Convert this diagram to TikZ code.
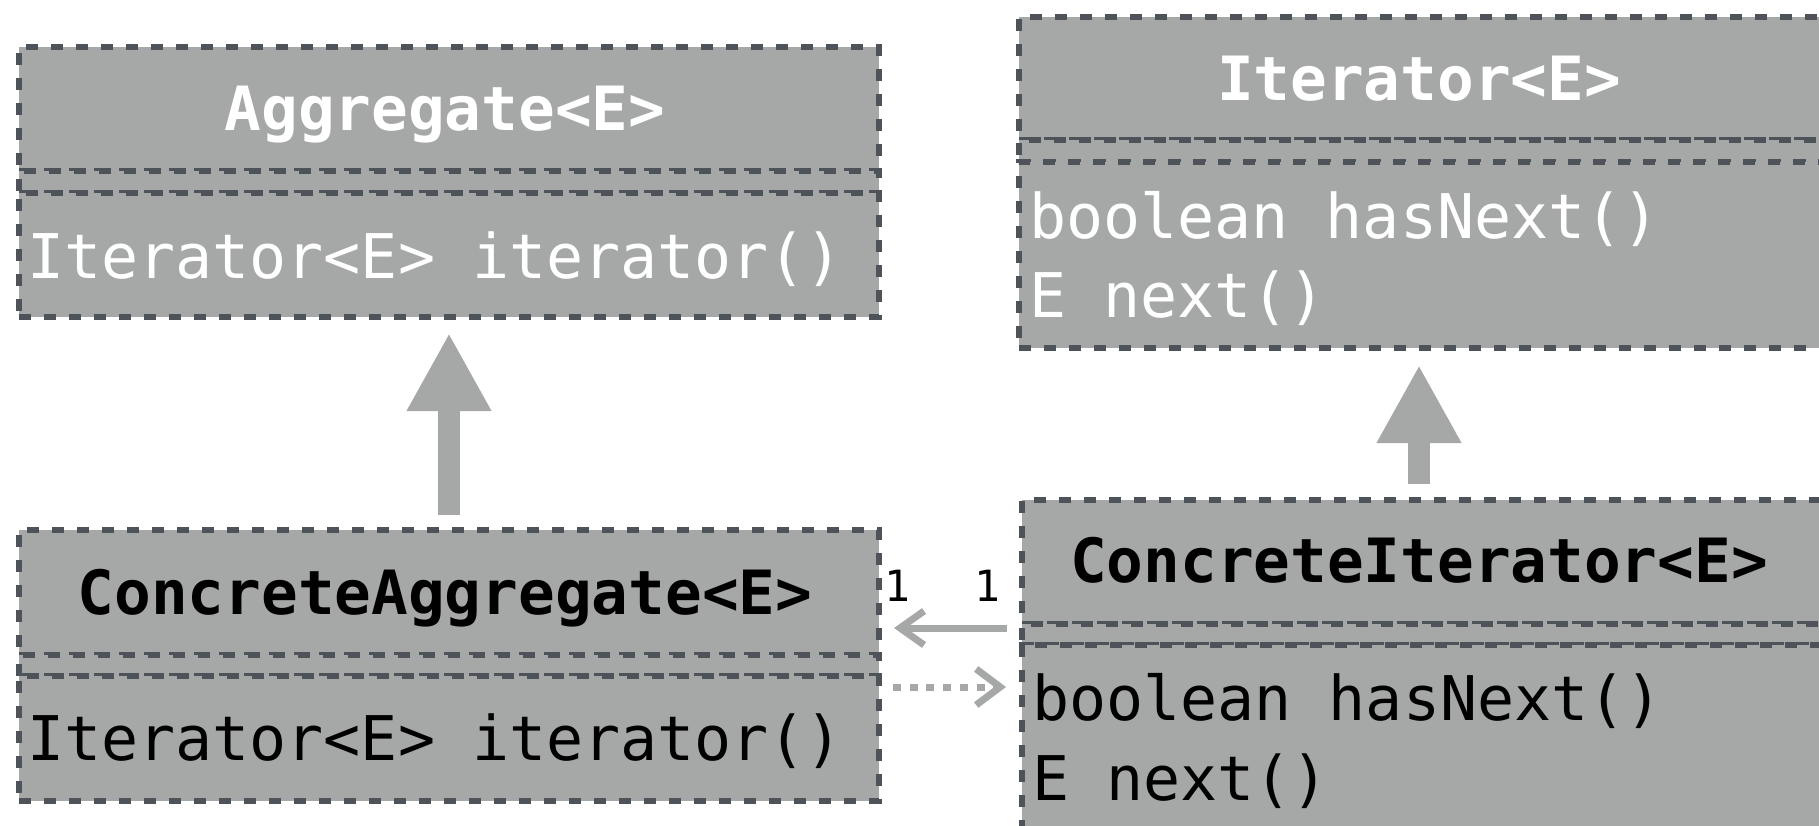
\documentclass[tikz,border=0pt]{standalone}
\usepackage{fontspec}
\setmonofont{DejaVu Sans Mono}
\usetikzlibrary{arrows.meta}
\definecolor{boxfill}{HTML}{A5A8A6}
\definecolor{boxline}{HTML}{4E535A}
\definecolor{arrowc}{HTML}{A5A8A6}
\tikzset{
  comp/.style={rectangle, draw=boxline, fill=boxfill, line width=6pt,
    dash pattern=on 12.4pt off 12.6pt, inner sep=0pt, anchor=north west,
    minimum width=#1},
  comp/.default=860pt,
  titletxt/.style={font=\ttfamily\bfseries\fontsize{61}{73}\selectfont, inner sep=0pt, anchor=base},
  methtxt/.style={font=\ttfamily\fontsize{61.6}{73}\selectfont, inner sep=0pt, anchor=base west},
  multtxt/.style={font=\ttfamily\fontsize{43}{50}\selectfont, inner sep=0pt, anchor=base},
  inh/.style={draw=arrowc, line width=21.5pt, -{Triangle[length=78pt,width=79pt,fill=arrowc]}},
  assoc/.style={draw=arrowc, line width=7pt, -{Straight Barb[length=24pt,width=34pt,line width=7pt]}},
  dep/.style={draw=arrowc, line width=7pt, dash pattern=on 8pt off 8.7pt,
    -{Straight Barb[length=24pt,width=36pt,line width=7pt]}},
}
\begin{document}
\begin{tikzpicture}[x=1pt,y=-1pt]
\useasboundingbox (0,0) rectangle (1819,826);
\clip (0,0) rectangle (1819,826);
% Aggregate
\node[comp, minimum height=124pt] (agt) at (16,44) {};
\node[comp, minimum height=22pt] (aga) at (16,168) {};
\node[comp, minimum height=124pt] (agm) at (16,190) {};
\node[titletxt, text=white] (agtxt) at (445,131) {Aggregate<E>};
\node[methtxt, text=white] (agmtxt) at (27,278) {Iterator<E> iterator()};
% Iterator
\node[comp=900pt, minimum height=123pt] (itt) at (1016,14) {};
\node[comp=900pt, minimum height=22pt] (ita) at (1016,137) {};
\node[comp=900pt, minimum height=186pt] (itm) at (1016,159) {};
\node[titletxt, text=white] (ittxt) at (1419,101) {Iterator<E>};
\node[methtxt, text=white] (itm1) at (1029,239) {boolean hasNext()};
\node[methtxt, text=white] (itm2) at (1029,317) {E next()};
% ConcreteAggregate
\node[comp, minimum height=125pt] (cat) at (16,527) {};
\node[comp, minimum height=21pt] (caa) at (16,652) {};
\node[comp, minimum height=125pt] (cam) at (16,673) {};
\node[titletxt, text=black] (catxt) at (445,614) {ConcreteAggregate<E>};
\node[methtxt, text=black] (camtxt) at (27,760) {Iterator<E> iterator()};
% ConcreteIterator
\node[comp=900pt, minimum height=124pt] (cit) at (1019,497) {};
\node[comp=900pt, minimum height=21pt] (cia) at (1019,621) {};
\node[comp=900pt, minimum height=250pt] (cim) at (1019,642) {};
\node[titletxt, text=black] (citxt) at (1419,582) {ConcreteIterator<E>};
\node[methtxt, text=black] (cim1) at (1032,720) {boolean hasNext()};
\node[methtxt, text=black] (cim2) at (1032,800) {E next()};
% multiplicities
\node[multtxt] (m1) at (897,601) {1};
\node[multtxt] (m2) at (987,601) {1};
% connectors
\draw[inh, shorten <=12pt, shorten >=13pt] (cat.north) -- (agm.south);
\draw[inh, shorten <=13pt, shorten >=14pt] (citxt |- cit.north) -- (citxt |- itm.south);
\coordinate (assocy) at (0,628);
\coordinate (depy) at (0,687);
\draw[assoc, shorten <=12pt, shorten >=12pt] (cit.west |- assocy) -- (cat.east |- assocy);
\draw[dep, shorten <=11pt, shorten >=13pt] (cam.east |- depy) -- (cim.west |- depy);
\end{tikzpicture}
\end{document}
